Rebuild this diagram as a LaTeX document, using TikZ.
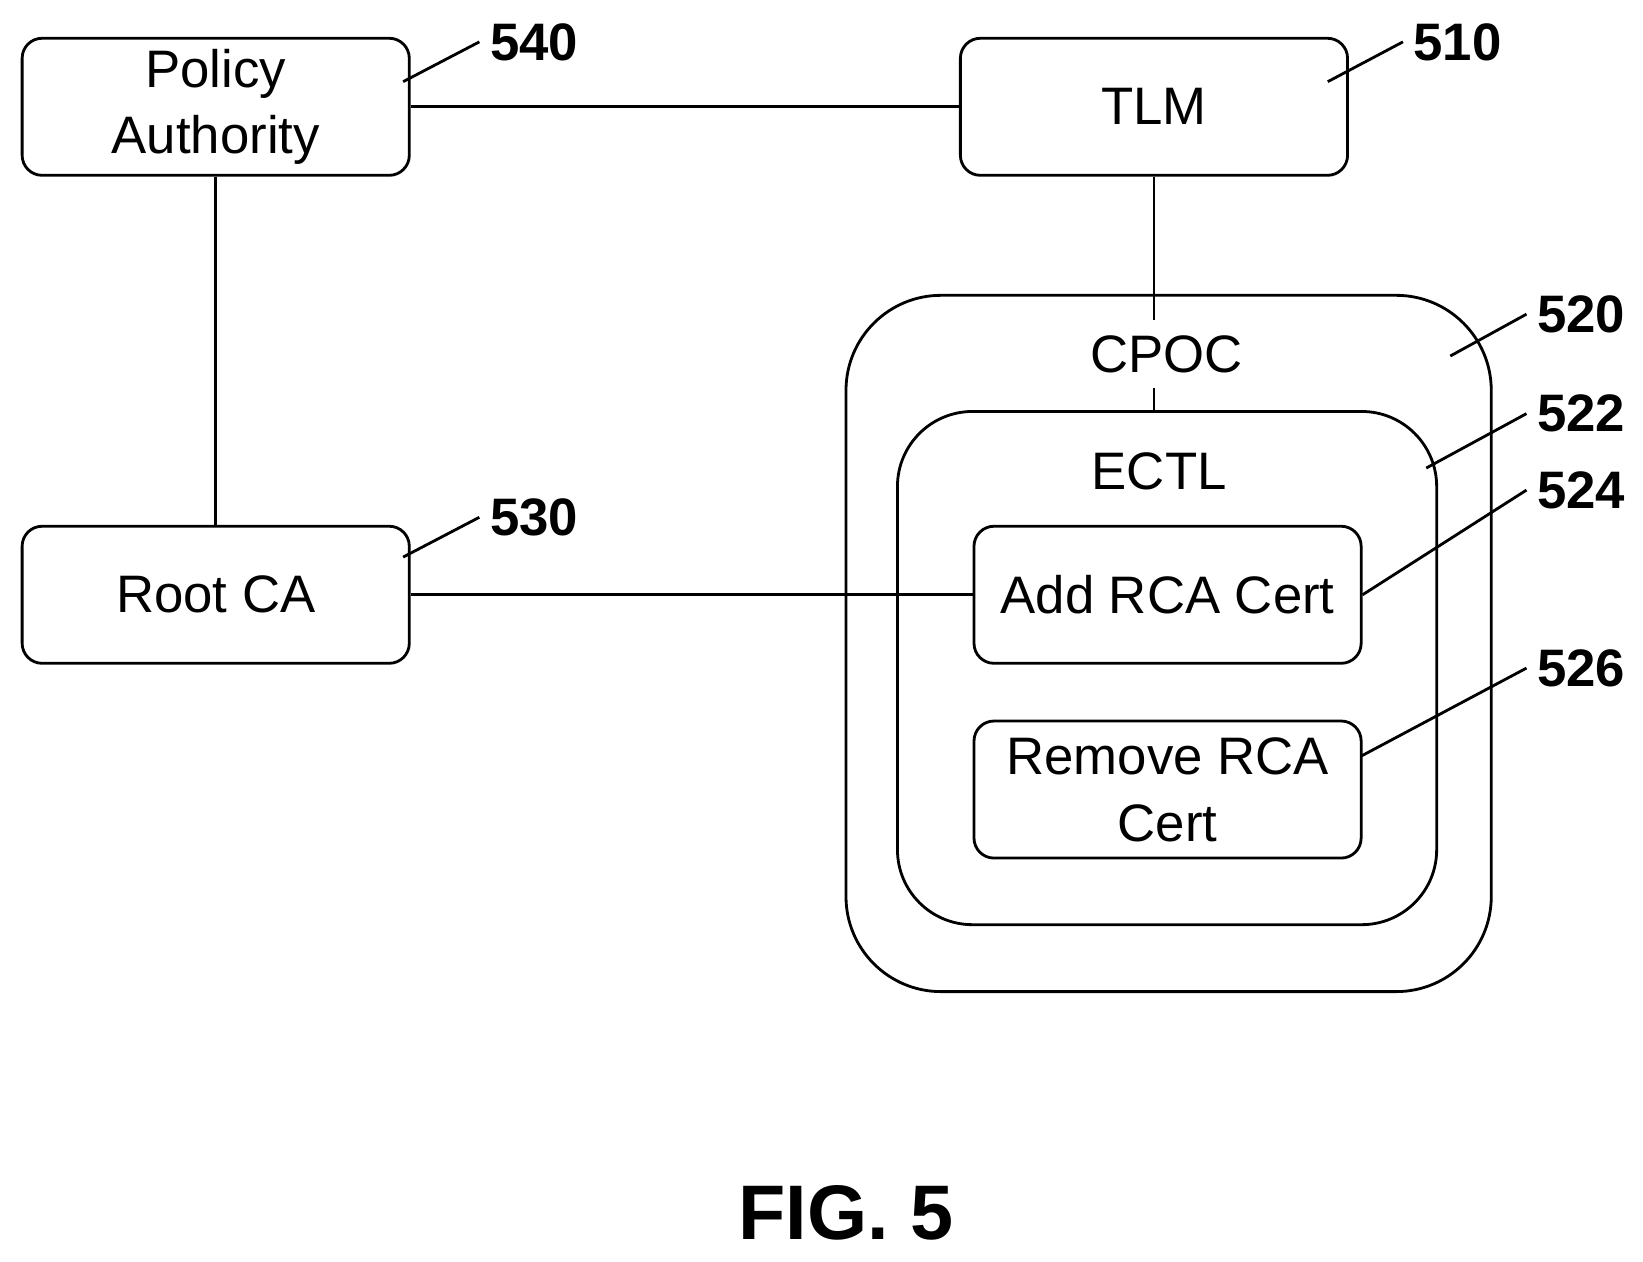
\documentclass[tikz,border=0pt]{standalone}
\usepackage{fontspec}
\setmainfont{Liberation Sans}
\usetikzlibrary{positioning}
\tikzstyle{block}=[rectangle,draw,thick,rounded corners=0.2cm,minimum width=3.87cm,minimum height=1.37cm,align=center,font=\fontsize{15}{19}\selectfont]
\tikzstyle{refnum}=[font=\fontsize{15}{18}\selectfont\bfseries]
\tikzstyle{leader}=[thick]
\begin{document}
\begin{tikzpicture}[x=0.01047cm,y=-0.01047cm,inner sep=1mm]
\useasboundingbox (0,0) rectangle (1569,1205);

% containers
\node[draw,thick,rounded corners=0.95cm,minimum width=6.45cm,minimum height=6.96cm] (cpoc) at (1116,614.5) {};
\node[draw,thick,rounded corners=0.75cm,minimum width=5.39cm,minimum height=5.13cm] (ectl) at (1114.5,638) {};

% blocks
\node[block] (pa) at (206,102) {Policy\\Authority};
\node[block] (tlm) at (1102,102) {TLM};
\node[block] (rca) at (206,568) {Root CA};
\node[block] (add) at (1115,568) {Add RCA Cert};
\node[block] (rem) at (1115,754) {Remove RCA\\Cert};

\draw[thick] (pa) -- (tlm);
\draw[thick] (pa) -- (rca);
\draw[thick] (rca) -- (add);
\draw[thick] (tlm) -- (tlm |- ectl.north);

\node[fill=white,font=\fontsize{15}{19}\selectfont,inner sep=1.5mm] (cpoclbl) at (1114,338) {CPOC};
\node[font=\fontsize{15}{19}\selectfont] (ectllbl) at (1107,450) {ECTL};

% reference numerals
\node[refnum] (n540) at (510,40) {540};
\node[refnum] (n510) at (1392,40) {510};
\node[refnum] (n520) at (1510,300) {520};
\node[refnum] (n522) at (1510,395) {522};
\node[refnum] (n524) at (1510,468) {524};
\node[refnum] (n526) at (1510,638) {526};
\node[refnum] (n530) at (510,494) {530};

\coordinate (t540) at (385,78);
\coordinate (t510) at (1268,78);
\coordinate (t520) at (1385,340);
\coordinate (t522) at (1362,447);
\coordinate (t524) at (add.east);
\coordinate (t526) at (1300,722);
\coordinate (t530) at (385,532);
\foreach \n in {540,510,520,522,524,526,530} {
	\draw[leader] (t\n) -- (n\n.west);
};

\node[font=\fontsize{22}{26}\selectfont\bfseries] (fig) at (808,1158) {FIG. 5};

\end{tikzpicture}
\end{document}
